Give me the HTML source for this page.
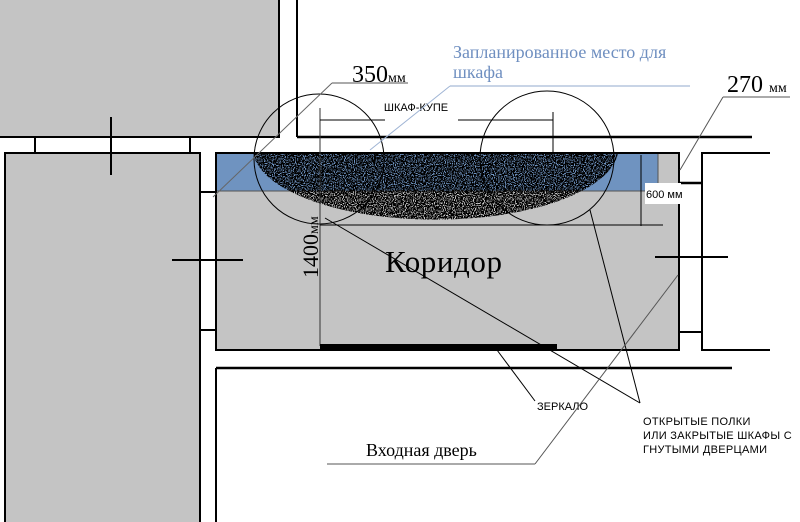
<!DOCTYPE html>
<html><head><meta charset="utf-8"><style>
html,body{margin:0;padding:0;background:#fff;}
svg{display:block;}
</style></head><body>
<svg width="800" height="522" viewBox="0 0 800 522" xmlns="http://www.w3.org/2000/svg">
<defs>
<filter id="n" x="0" y="0" width="100%" height="100%">
<feTurbulence type="fractalNoise" baseFrequency="0.9" numOctaves="1" seed="3"/>
<feColorMatrix type="matrix" values="0 0 0 0 0  0 0 0 0 0  0 0 0 0 0  -14 0 0 0 8.3"/>
</filter>
<clipPath id="ec"><path d="M253 153 L618 153 A183 72 0 0 1 253 153 Z"/></clipPath>
</defs>
<rect x="-2" y="-2" width="281" height="139" fill="#c4c4c4" stroke="#000" stroke-width="2"/>
<line x1="297" y1="0" x2="297" y2="137" stroke="#000" stroke-width="2"/>
<line x1="297" y1="137" x2="752" y2="137" stroke="#000" stroke-width="2.5"/>
<line x1="111" y1="117" x2="111" y2="175" stroke="#000" stroke-width="2"/>
<rect x="5" y="153" width="195" height="380" fill="#c4c4c4" stroke="#000" stroke-width="2"/>
<line x1="35" y1="137" x2="35" y2="153" stroke="#000" stroke-width="2"/>
<line x1="190" y1="137" x2="190" y2="153" stroke="#000" stroke-width="2"/>
<line x1="111" y1="150" x2="111" y2="175" stroke="#000" stroke-width="2"/>
<rect x="216" y="153" width="463" height="197" fill="#c4c4c4" stroke="#000" stroke-width="2"/>
<rect x="217" y="154" width="441" height="37" fill="#6f93c0"/>
<line x1="217" y1="191" x2="679" y2="191" stroke="#555" stroke-width="1"/>
<line x1="658" y1="154" x2="658" y2="191" stroke="#555" stroke-width="1"/>
<line x1="200" y1="192" x2="216" y2="192" stroke="#000" stroke-width="2"/>
<line x1="200" y1="330" x2="216" y2="330" stroke="#000" stroke-width="2"/>
<line x1="172" y1="260" x2="243" y2="260" stroke="#000" stroke-width="2"/>
<polyline points="770,153 702,153 702,350 770,350" fill="none" stroke="#000" stroke-width="2"/>
<line x1="679" y1="183" x2="702" y2="183" stroke="#000" stroke-width="2.5"/>
<line x1="679" y1="332" x2="702" y2="332" stroke="#000" stroke-width="2"/>
<line x1="655" y1="257" x2="728" y2="257" stroke="#000" stroke-width="2"/>
<line x1="216" y1="368" x2="732" y2="368" stroke="#000" stroke-width="2.5"/>
<line x1="216" y1="368" x2="216" y2="522" stroke="#000" stroke-width="2"/>
<g clip-path="url(#ec)"><rect x="250" y="150" width="372" height="80" fill="#000" filter="url(#n)"/></g>
<circle cx="319" cy="159" r="65" fill="none" stroke="#000" stroke-width="1"/>
<circle cx="547" cy="158" r="67" fill="none" stroke="#000" stroke-width="1"/>
<line x1="320" y1="108" x2="320" y2="346" stroke="#333" stroke-width="1"/>
<line x1="320" y1="120" x2="385" y2="120" stroke="#000" stroke-width="1"/>
<line x1="458" y1="120" x2="553" y2="120" stroke="#000" stroke-width="1"/>
<line x1="553" y1="112" x2="553" y2="153" stroke="#000" stroke-width="1"/>
<line x1="320" y1="225" x2="663" y2="225" stroke="#000" stroke-width="1"/>
<line x1="641" y1="155" x2="641" y2="226" stroke="#000" stroke-width="1"/>
<rect x="645" y="183" width="36" height="21" fill="#fff"/>
<text x="646" y="198" font-family="Liberation Sans, sans-serif" font-size="11">600 мм</text>
<text x="416" y="111" font-family="Liberation Sans, sans-serif" font-size="11" text-anchor="middle">ШКАФ-КУПЕ</text>
<rect x="320" y="344" width="237" height="5" fill="#000"/>
<text transform="translate(318,278) rotate(-90)" font-family="Liberation Serif, serif" font-size="22">1400<tspan font-size="14">мм</tspan></text>
<text x="352" y="82" font-family="Liberation Serif, serif" font-size="24">350<tspan font-size="14">мм</tspan></text>
<line x1="332" y1="83" x2="408" y2="83" stroke="#555" stroke-width="1"/>
<line x1="332" y1="83" x2="213" y2="197" stroke="#666" stroke-width="1"/>
<text x="453" y="58" font-family="Liberation Serif, serif" font-size="18" fill="#6f8fc0">Запланированное место для</text>
<text x="453" y="78" font-family="Liberation Serif, serif" font-size="18" fill="#6f8fc0">шкафа</text>
<line x1="450" y1="86" x2="690" y2="86" stroke="#b6c6dd" stroke-width="1.5"/>
<line x1="450" y1="86" x2="370" y2="150" stroke="#9fb4d4" stroke-width="1"/>
<text x="727" y="92" font-family="Liberation Serif, serif" font-size="24">270 <tspan font-size="14">мм</tspan></text>
<line x1="723" y1="97" x2="790" y2="97" stroke="#555" stroke-width="1"/>
<line x1="723" y1="97" x2="680" y2="170" stroke="#555" stroke-width="1"/>
<text x="385" y="272" font-family="Liberation Serif, serif" font-size="31" textLength="117">Коридор</text>
<line x1="497" y1="350" x2="535" y2="401" stroke="#000" stroke-width="1"/>
<text x="537" y="410" font-family="Liberation Sans, sans-serif" font-size="11">ЗЕРКАЛО</text>
<line x1="325" y1="218" x2="640" y2="403" stroke="#000" stroke-width="1"/>
<line x1="590" y1="210" x2="640" y2="403" stroke="#000" stroke-width="1"/>
<text x="643" y="425" font-family="Liberation Sans, sans-serif" font-size="11" letter-spacing="0.3">ОТКРЫТЫЕ ПОЛКИ</text>
<text x="643" y="439" font-family="Liberation Sans, sans-serif" font-size="11" letter-spacing="0.3">ИЛИ ЗАКРЫТЫЕ ШКАФЫ С</text>
<text x="643" y="453" font-family="Liberation Sans, sans-serif" font-size="11" letter-spacing="0.3">ГНУТЫМИ ДВЕРЦАМИ</text>
<text x="366" y="456" font-family="Liberation Serif, serif" font-size="18">Входная дверь</text>
<line x1="327" y1="464" x2="535" y2="464" stroke="#555" stroke-width="1"/>
<line x1="535" y1="464" x2="678" y2="275" stroke="#555" stroke-width="1"/>
</svg>
</body></html>
